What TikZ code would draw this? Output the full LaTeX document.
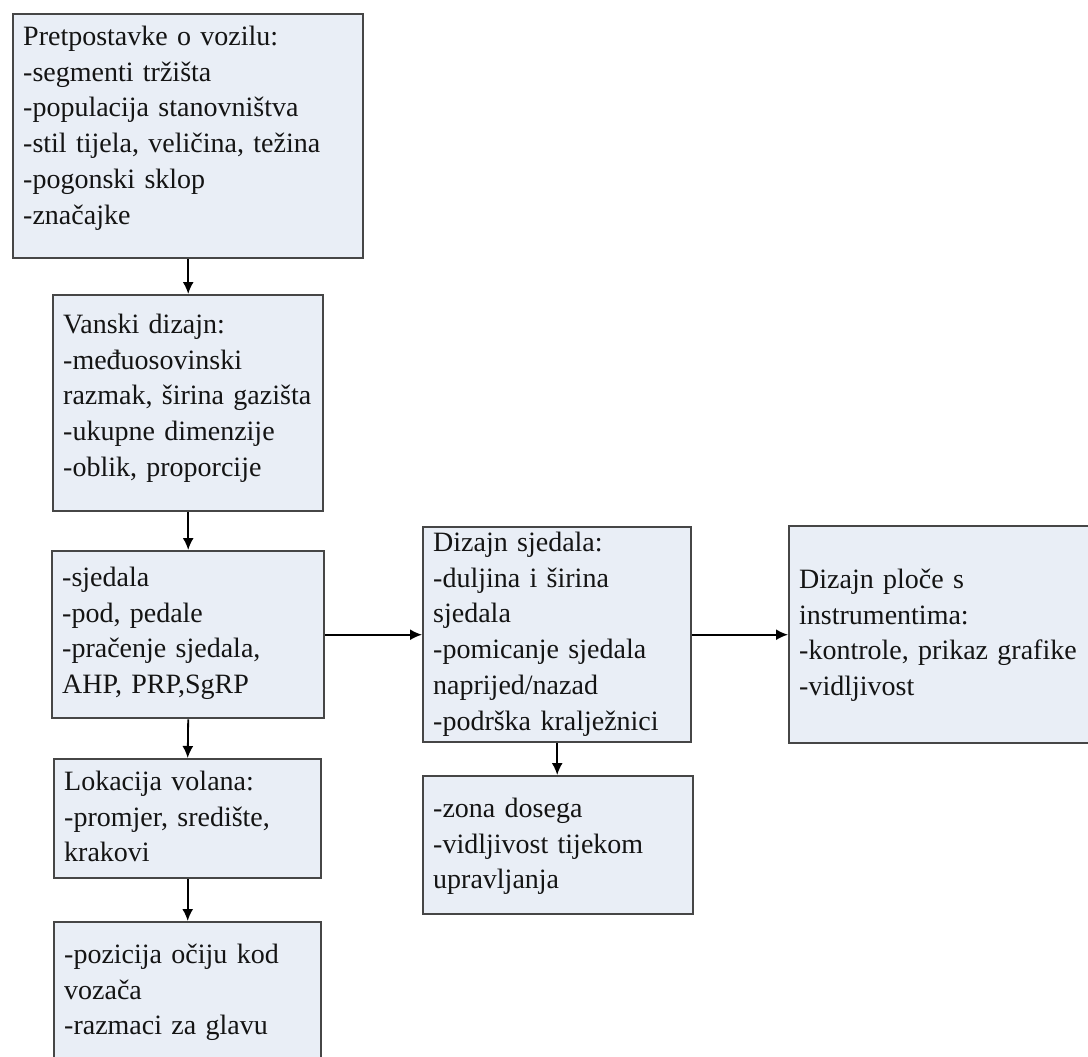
\documentclass[tikz,border=0pt]{standalone}
\usepackage{fontspec}
\setmainfont{Liberation Serif}
\usetikzlibrary{arrows.meta}
\definecolor{boxfill}{RGB}{233,238,246}
\definecolor{boxline}{RGB}{70,70,70}

\begin{document}
\begin{tikzpicture}[x=0.5pt, y=-0.5pt,
  box/.style = {rectangle, draw=boxline, line width=1.2pt, fill=boxfill, anchor=north west, align=left, inner xsep=5pt, inner ysep=0pt, font=\fontsize{14}{17.9}\selectfont, text=black!92},
  flow/.style = {-{Latex[length=6pt,width=5.5pt]}, line width=0.9pt}]

\path[use as bounding box, clip] (0,0) rectangle (1088,1056);

\node[box, text width=165pt, text height=15.5pt, text depth=106.5pt] (veh) at (12,13) {Pretpostavke o vozilu:\\-segmenti tržišta\\-populacija stanovništva\\-stil tijela, veličina, težina\\-pogonski sklop\\-značajke};
\node[box, text width=125pt, text height=19pt, text depth=89pt] (ext) at (52,294) {Vanski dizajn:\\-međuosovinski\\razmak, širina gazišta\\-ukupne dimenzije\\-oblik, proporcije};
\node[box, text width=126pt, text height=17.5pt, text depth=66pt] (seat) at (51,550) {-sjedala\\-pod, pedale\\-pračenje sjedala,\\AHP, PRP,SgRP};
\node[box, text width=123.5pt, text height=15.5pt, text depth=44pt] (wheel) at (53,758) {Lokacija volana:\\-promjer, središte,\\krakovi};
\node[box, text width=123.5pt, text height=20.5pt, text depth=56.5pt] (eye) at (53,921) {-pozicija očiju kod\\vozača\\-razmaci za glavu};

\node[box, text width=124pt, text height=12pt, text depth=95.5pt] (sjed) at (422,526) {Dizajn sjedala:\\-duljina i širina\\sjedala\\-pomicanje sjedala\\naprijed/nazad\\-podrška kralježnici};
\node[box, text width=125pt, text height=20.5pt, text depth=48.5pt] (reach) at (422,775) {-zona dosega\\-vidljivost tijekom\\upravljanja};

\node[box, text width=143pt, text height=31pt, text depth=77.5pt] (ploca) at (788,525) {Dizajn ploče s\\instrumentima:\\-kontrole, prikaz grafike\\-vidljivost};

\draw[flow] (veh.south) -- (ext.north);
\draw[flow] (ext.south) -- (seat.north);
\draw[flow] (seat.south) -- (wheel.north);
\draw[flow] (wheel.south) -- (eye.north);
\draw[flow] (seat.east) -- (seat.east -| sjed.west);
\draw[flow] (sjed.east) -- (sjed.east -| ploca.west);
\draw[flow] (sjed.south) -- (sjed.south |- reach.north);

\end{tikzpicture}
\end{document}
